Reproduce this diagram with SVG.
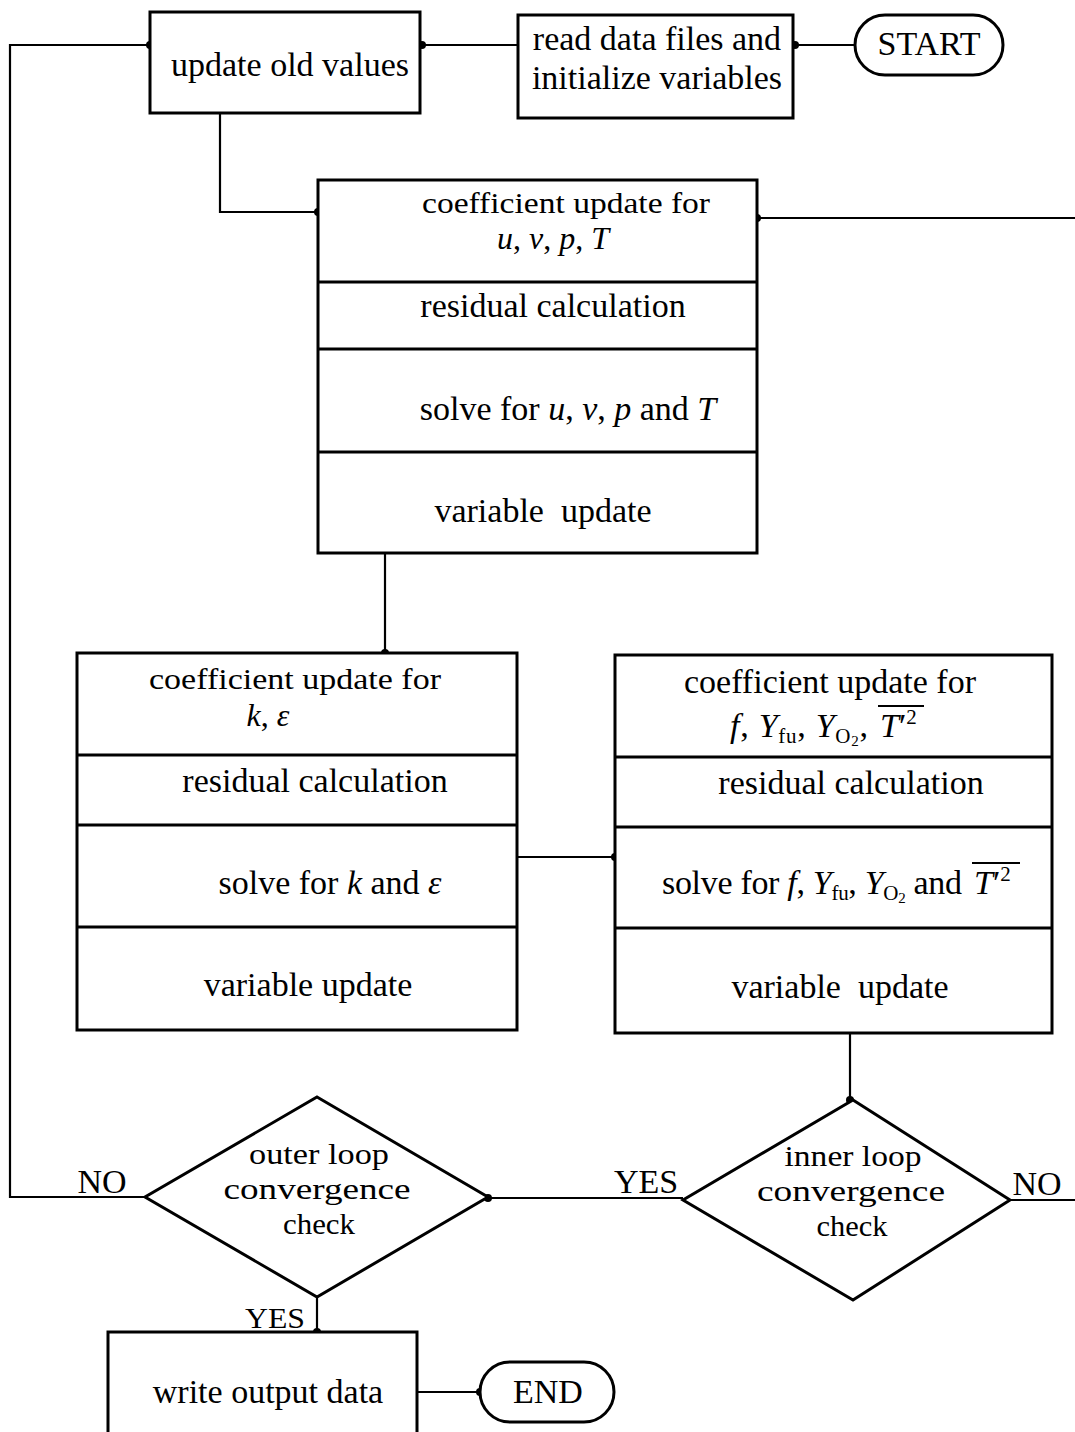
<svg xmlns="http://www.w3.org/2000/svg" width="1075" height="1432" viewBox="0 0 1075 1432">
  <style>
    .box { fill: #fff; stroke: #000; stroke-width: 3; }
    .div { stroke: #000; stroke-width: 3; }
    .wire { fill: none; stroke: #000; stroke-width: 2.2; }
    .t { font-family: "Liberation Serif", "DejaVu Serif", serif; font-size: 34px; fill: #000; text-anchor: middle; }
    .s { font-size: 30px; }
    .m { font-size: 32px; }
    .l { text-anchor: start; }
    .r { text-anchor: end; }
    .i { font-style: italic; }
    .sub { font-size: 21px; }
    .sub2 { font-size: 15px; }
    .ov { stroke: #000; stroke-width: 2; }
  </style>
  <defs>
    <marker id="dot" viewBox="0 0 10 10" refX="5" refY="5" markerWidth="8" markerHeight="8" markerUnits="userSpaceOnUse">
      <circle cx="5" cy="5" r="5" fill="#000"/>
    </marker>
  </defs>

  <rect width="1075" height="1432" fill="#fff"/>

  <!-- connectors -->
  <g id="connectors">
    <polyline class="wire" points="855,45 795,45" marker-end="url(#dot)"/>
    <polyline class="wire" points="518,45 422,45" marker-end="url(#dot)"/>
    <polyline class="wire" points="220,113 220,212 318,212" marker-end="url(#dot)"/>
    <polyline class="wire" points="1075,218 757,218" marker-end="url(#dot)"/>
    <polyline class="wire" points="385,553 385,653" marker-end="url(#dot)"/>
    <polyline class="wire" points="517,857 615,857" marker-end="url(#dot)"/>
    <polyline class="wire" points="850,1033 850,1100" marker-end="url(#dot)"/>
    <polyline class="wire" points="683,1198 488,1198" marker-end="url(#dot)"/>
    <polyline class="wire" points="1010,1200 1075,1200"/>
    <polyline class="wire" points="145,1197 10,1197 10,45 150,45" marker-end="url(#dot)"/>
    <polyline class="wire" points="317,1297 317,1332" marker-end="url(#dot)"/>
    <polyline class="wire" points="417,1392 480,1392" marker-end="url(#dot)"/>
    <text class="t" x="102" y="1193">NO</text>
    <text class="t" x="646" y="1193">YES</text>
    <text class="t" x="1037" y="1195">NO</text>
    <text class="t s" x="275" y="1328" textLength="60" lengthAdjust="spacingAndGlyphs">YES</text>
  </g>

  <g id="start">
    <rect class="box" x="855" y="15" width="148" height="60" rx="30"/>
    <text class="t" x="929" y="55">START</text>
  </g>

  <g id="read-data">
    <rect class="box" x="518" y="15" width="275" height="103"/>
    <text class="t" x="657" y="50">read data files and</text>
    <text class="t" x="657" y="89">initialize variables</text>
  </g>

  <g id="update-old">
    <rect class="box" x="150" y="12" width="270" height="101"/>
    <text class="t" x="290" y="76">update old values</text>
  </g>

  <g id="flow-block">
    <rect class="box" x="318" y="180" width="439" height="373"/>
    <line class="div" x1="318" y1="282" x2="757" y2="282"/>
    <line class="div" x1="318" y1="349" x2="757" y2="349"/>
    <line class="div" x1="318" y1="452" x2="757" y2="452"/>
    <text class="t s" x="566" y="213" textLength="288" lengthAdjust="spacingAndGlyphs">coefficient update for</text>
    <text class="t m i" x="553" y="249">u<tspan font-style="normal">, </tspan>v<tspan font-style="normal">, </tspan>p<tspan font-style="normal">, </tspan>T</text>
    <text class="t" x="553" y="317">residual calculation</text>
    <text class="t" x="568" y="420">solve for <tspan class="i">u</tspan>, <tspan class="i">v</tspan>, <tspan class="i">p</tspan> and <tspan class="i">T</tspan></text>
    <text class="t" x="543" y="522" xml:space="preserve">variable  update</text>
  </g>

  <g id="turb-block">
    <rect class="box" x="77" y="653" width="440" height="377"/>
    <line class="div" x1="77" y1="755" x2="517" y2="755"/>
    <line class="div" x1="77" y1="825" x2="517" y2="825"/>
    <line class="div" x1="77" y1="927" x2="517" y2="927"/>
    <text class="t s" x="295" y="689" textLength="292" lengthAdjust="spacingAndGlyphs">coefficient update for</text>
    <text class="t m i" x="268" y="726">k<tspan font-style="normal">, </tspan>ε</text>
    <text class="t" x="315" y="792">residual calculation</text>
    <text class="t" x="330" y="894">solve for <tspan class="i">k</tspan> and <tspan class="i">ε</tspan></text>
    <text class="t" x="308" y="996">variable update</text>
  </g>

  <g id="species-block">
    <rect class="box" x="615" y="655" width="437" height="378"/>
    <line class="div" x1="615" y1="757" x2="1052" y2="757"/>
    <line class="div" x1="615" y1="827" x2="1052" y2="827"/>
    <line class="div" x1="615" y1="928" x2="1052" y2="928"/>
    <text class="t" x="830" y="693">coefficient update for</text>
    <text class="t r" x="868" y="737" textLength="138" lengthAdjust="spacing"><tspan class="i">f</tspan>, <tspan class="i">Y</tspan><tspan class="sub" dy="6">fu</tspan><tspan dy="-6">, </tspan><tspan class="i">Y</tspan><tspan class="sub" dy="6">O</tspan><tspan class="sub2" dy="3">2</tspan><tspan dy="-9">,</tspan></text>
    <text class="t l" x="880" y="737"><tspan class="i">T</tspan>′<tspan class="sub" dy="-13">2</tspan></text>
    <line class="ov" x1="878" y1="706" x2="924" y2="706"/>
    <text class="t" x="851" y="794">residual calculation</text>
    <text class="t r" x="962" y="894" textLength="300" lengthAdjust="spacing">solve for <tspan class="i">f</tspan>, <tspan class="i">Y</tspan><tspan class="sub" dy="6">fu</tspan><tspan dy="-6">, </tspan><tspan class="i">Y</tspan><tspan class="sub" dy="6">O</tspan><tspan class="sub2" dy="3">2</tspan><tspan dy="-9"> and</tspan></text>
    <text class="t l" x="974" y="894"><tspan class="i">T</tspan>′<tspan class="sub" dy="-13">2</tspan></text>
    <line class="ov" x1="972" y1="863" x2="1020" y2="863"/>
    <text class="t" x="840" y="998" xml:space="preserve">variable  update</text>
  </g>

  <g id="outer-check">
    <polygon class="box" points="317,1097 488,1197 317,1297 145,1197"/>
    <text class="t s" x="319" y="1164" textLength="140" lengthAdjust="spacingAndGlyphs">outer loop</text>
    <text class="t s" x="317" y="1199" textLength="187" lengthAdjust="spacingAndGlyphs">convergence</text>
    <text class="t s" x="319" y="1234" textLength="72" lengthAdjust="spacingAndGlyphs">check</text>
  </g>

  <g id="inner-check">
    <polygon class="box" points="853,1100 1010,1200 853,1300 683,1200"/>
    <text class="t s" x="853" y="1166" textLength="137" lengthAdjust="spacingAndGlyphs">inner loop</text>
    <text class="t s" x="851" y="1201" textLength="188" lengthAdjust="spacingAndGlyphs">convergence</text>
    <text class="t s" x="852" y="1236" textLength="71" lengthAdjust="spacingAndGlyphs">check</text>
  </g>

  <g id="write-output">
    <rect class="box" x="108" y="1332" width="309" height="110"/>
    <text class="t" x="268" y="1403">write output data</text>
  </g>

  <g id="end">
    <rect class="box" x="480" y="1362" width="134" height="60" rx="30"/>
    <text class="t" x="548" y="1403">END</text>
  </g>
</svg>
